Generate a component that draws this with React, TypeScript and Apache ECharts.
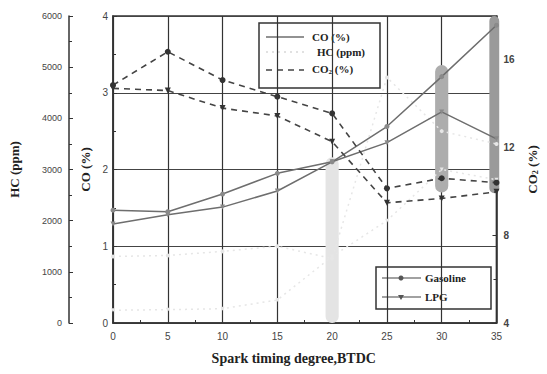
import React, { useEffect, useRef } from "react";
import * as echarts from "echarts";

// ---- data ----
const sparkTiming = [0, 5, 10, 15, 20, 25, 30, 35];
const coGasoline = [1.47, 1.45, 1.68, 1.95, 2.1, 2.56, 3.21, 3.88];
const coLPG = [1.29, 1.41, 1.51, 1.72, 2.1, 2.35, 2.75, 2.4];
const hcGasoline = [1300, 1320, 1400, 1500, 1260, 4800, 3750, 3500];
const hcLPG = [250, 260, 280, 450, 1300, 2000, 3000, 2800];
const co2Gasoline = [14.85, 16.37, 15.08, 14.32, 13.56, 10.14, 10.6, 10.4];
const co2LPG = [14.7, 14.6, 13.8, 13.44, 12.27, 9.48, 9.68, 9.98];
// scan smudges (x, CO low, CO high, half width in x units)
const smudgeX = [20, 30, 34.8];
const smudgeLow = [0, 1.7, 1.69];
const smudgeHigh = [2.16, 3.36, 4];
const smudgeHalf = [0.6, 0.6, 0.45];

const smudgeColors = ["#e4e4e4", "#adadad", "#9a9a9a"];
const SERIF = "'Liberation Serif', 'DejaVu Serif', serif";
const SANS = "'Liberation Sans', Arial, sans-serif";

const pair = (ys: number[]) => sparkTiming.map((x, i) => [x, ys[i]]);

export default function App() {
  const ref = useRef<HTMLDivElement>(null);
  useEffect(() => {
    if (!ref.current) return;
    const chart = echarts.init(ref.current, undefined, { renderer: "svg" });
    const titleStyle = {
      fontFamily: SERIF,
      fontWeight: "bold" as const,
      fontSize: 13,
      color: "#222",
    };
    const labelStyle = { fontFamily: SANS, fontSize: 10, color: "#444" };
    const smudgeData = smudgeX.map((x, i) => [x, smudgeLow[i], smudgeHigh[i], smudgeHalf[i]]);
    const hcColor = "#e6e6e6";

    const option: any = {
      animation: false,
      backgroundColor: "#fff",
      grid: {
        left: 111,
        right: 42,
        top: 16,
        bottom: 51,
        show: true,
        borderColor: "#333",
        borderWidth: 1.5,
        backgroundColor: "transparent",
      },
      xAxis: {
        type: "value",
        min: 0,
        max: 35,
        interval: 5,
        name: "Spark timing degree,BTDC",
        nameLocation: "middle",
        nameGap: 28,
        nameTextStyle: { ...titleStyle, fontSize: 14, padding: [0, 22, 0, 0] },
        axisLine: { lineStyle: { color: "#333", width: 1.5 } },
        axisTick: { inside: true, length: 4, lineStyle: { color: "#333" } },
        minorTick: { show: true, splitNumber: 2, length: 3, lineStyle: { color: "#333" } },
        axisLabel: { ...labelStyle, margin: 8 },
        splitLine: { show: true, lineStyle: { color: "#333", width: 1.2 } },
      },
      yAxis: [
        {
          type: "value",
          min: 0,
          max: 4,
          interval: 1,
          position: "left",
          name: "CO (%)",
          nameLocation: "middle",
          nameGap: 20,
          nameRotate: 90,
          nameTextStyle: titleStyle,
          axisLine: { show: true, lineStyle: { color: "#333", width: 1.5 } },
          axisTick: { inside: true, length: 4, lineStyle: { color: "#333" } },
          minorTick: { show: true, splitNumber: 2, length: 3, lineStyle: { color: "#333" } },
          axisLabel: { ...labelStyle, margin: 5 },
          splitLine: { show: true, lineStyle: { color: "#444", width: 1.2 } },
        },
        {
          type: "value",
          min: 0,
          max: 6000,
          interval: 1000,
          position: "left",
          offset: 44,
          name: "HC (ppm)",
          nameLocation: "middle",
          nameGap: 48,
          nameRotate: 90,
          nameTextStyle: titleStyle,
          axisLine: { show: true, lineStyle: { color: "#333", width: 1.5 } },
          axisTick: { inside: true, length: 4, lineStyle: { color: "#333" } },
          minorTick: { show: true, splitNumber: 2, length: 3, lineStyle: { color: "#333" } },
          axisLabel: { ...labelStyle, fontSize: 9, margin: 7, formatter: (v: number) => String(v) },
          splitLine: { show: false },
        },
        {
          type: "value",
          min: 4,
          max: 18,
          interval: 4,
          position: "right",
          name: "CO{s|2} (%)",
          nameLocation: "middle",
          nameGap: 28,
          nameRotate: 90,
          nameTextStyle: {
            ...titleStyle,
            rich: { s: { ...titleStyle, fontSize: 8, verticalAlign: "bottom", padding: [6, 0, 0, 0] } },
          },
          axisLine: { show: true, lineStyle: { color: "#333", width: 1.5 } },
          axisTick: { inside: true, length: 4, lineStyle: { color: "#333" } },
          minorTick: { show: true, splitNumber: 2, length: 3, lineStyle: { color: "#333" } },
          axisLabel: { ...labelStyle, fontWeight: "bold", margin: 7, showMaxLabel: false },
          splitLine: { show: false },
        },
      ],
      series: [
        {
          type: "custom",
          name: "smudge",
          xAxisIndex: 0,
          yAxisIndex: 0,
          z: 1,
          silent: true,
          encode: { x: 0, y: [1, 2] },
          data: smudgeData,
          renderItem: (params: any, api: any) => {
            const x = api.value(0);
            const lo = api.value(1);
            const hi = api.value(2);
            const hw = api.value(3);
            const p1 = api.coord([x - hw, hi]);
            const p2 = api.coord([x + hw, lo]);
            const w = p2[0] - p1[0];
            return {
              type: "rect",
              shape: { x: p1[0], y: p1[1], width: w, height: p2[1] - p1[1], r: w / 2 },
              style: { fill: smudgeColors[params.dataIndex] },
            };
          },
        },
        {
          type: "line",
          name: "HC Gasoline",
          yAxisIndex: 1,
          z: 2,
          data: pair(hcGasoline),
          lineStyle: { color: hcColor, width: 1.5, type: [2, 4] },
          symbol: "circle",
          symbolSize: 4,
          itemStyle: { color: hcColor },
        },
        {
          type: "line",
          name: "HC LPG",
          yAxisIndex: 1,
          z: 2,
          data: pair(hcLPG),
          lineStyle: { color: hcColor, width: 1.5, type: [2, 4] },
          symbol: "triangle",
          symbolRotate: 180,
          symbolSize: 4,
          itemStyle: { color: hcColor },
        },
        {
          type: "line",
          name: "CO Gasoline",
          yAxisIndex: 0,
          z: 3,
          data: pair(coGasoline),
          lineStyle: { color: "#6e6e6e", width: 1.5 },
          symbol: "circle",
          symbolSize: 5,
          itemStyle: { color: "#8a8a8a" },
        },
        {
          type: "line",
          name: "CO LPG",
          yAxisIndex: 0,
          z: 3,
          data: pair(coLPG),
          lineStyle: { color: "#6e6e6e", width: 1.5 },
          symbol: "triangle",
          symbolRotate: 180,
          symbolSize: 5,
          itemStyle: { color: "#8a8a8a" },
        },
        {
          type: "line",
          name: "CO2 Gasoline",
          yAxisIndex: 2,
          z: 3,
          data: pair(co2Gasoline),
          lineStyle: { color: "#444", width: 1.6, type: [6, 5] },
          symbol: "circle",
          symbolSize: 6,
          itemStyle: { color: "#333" },
        },
        {
          type: "line",
          name: "CO2 LPG",
          yAxisIndex: 2,
          z: 3,
          data: pair(co2LPG),
          lineStyle: { color: "#444", width: 1.6, type: [6, 5] },
          symbol: "triangle",
          symbolRotate: 180,
          symbolSize: 6,
          itemStyle: { color: "#333" },
        },
      ],
      graphic: [
        {
          type: "group",
          z: 100,
          children: [
            { type: "rect", shape: { x: 259, y: 23, width: 121, height: 65 }, style: { fill: "#fff", stroke: "#333", lineWidth: 1.5 } },
            { type: "line", shape: { x1: 266, y1: 37, x2: 304, y2: 37 }, style: { stroke: "#6e6e6e", lineWidth: 1.5 } },
            { type: "line", shape: { x1: 266, y1: 52, x2: 304, y2: 52 }, style: { stroke: "#d8d8d8", lineWidth: 1.5, lineDash: [2, 4] } },
            { type: "line", shape: { x1: 266, y1: 70, x2: 304, y2: 70 }, style: { stroke: "#444", lineWidth: 1.6, lineDash: [6, 5] } },
            { type: "text", x: 312, y: 37, style: { text: "CO (%)", fill: "#222", font: `bold 11px ${SERIF}`, verticalAlign: "middle" } },
            { type: "text", x: 317, y: 52, style: { text: "HC (ppm)", fill: "#222", font: `bold 11px ${SERIF}`, verticalAlign: "middle" } },
            {
              type: "text",
              x: 312,
              y: 69,
              style: {
                text: "CO{s|2} (%)",
                fill: "#222",
                font: `bold 11px ${SERIF}`,
                verticalAlign: "middle",
                rich: { s: { fontFamily: SERIF, fontWeight: "bold", fontSize: 7, fill: "#222", padding: [5, 0, 0, 0] } },
              },
            },
          ],
        },
        {
          type: "group",
          z: 100,
          children: [
            { type: "rect", shape: { x: 376, y: 267, width: 115, height: 42 }, style: { fill: "#fff", stroke: "#333", lineWidth: 1.5 } },
            { type: "line", shape: { x1: 382, y1: 278, x2: 421, y2: 278 }, style: { stroke: "#444", lineWidth: 1.2 } },
            { type: "circle", shape: { cx: 401, cy: 278, r: 2.5 }, style: { fill: "#555" } },
            { type: "line", shape: { x1: 382, y1: 297, x2: 421, y2: 297 }, style: { stroke: "#444", lineWidth: 1.2 } },
            { type: "polygon", shape: { points: [[398, 295], [404, 295], [401, 300]] }, style: { fill: "#555" } },
            { type: "text", x: 425, y: 278, style: { text: "Gasoline", fill: "#222", font: `bold 11px ${SERIF}`, verticalAlign: "middle" } },
            { type: "text", x: 425, y: 297, style: { text: "LPG", fill: "#222", font: `bold 11px ${SERIF}`, verticalAlign: "middle" } },
          ],
        },
      ],
    };
    chart.setOption(option);
    return () => chart.dispose();
  }, []);
  return (
    <div
      ref={ref}
      style={{ position: "absolute", left: 0, top: 0, width: 547, height: 374, background: "#fff" }}
    />
  );
}
